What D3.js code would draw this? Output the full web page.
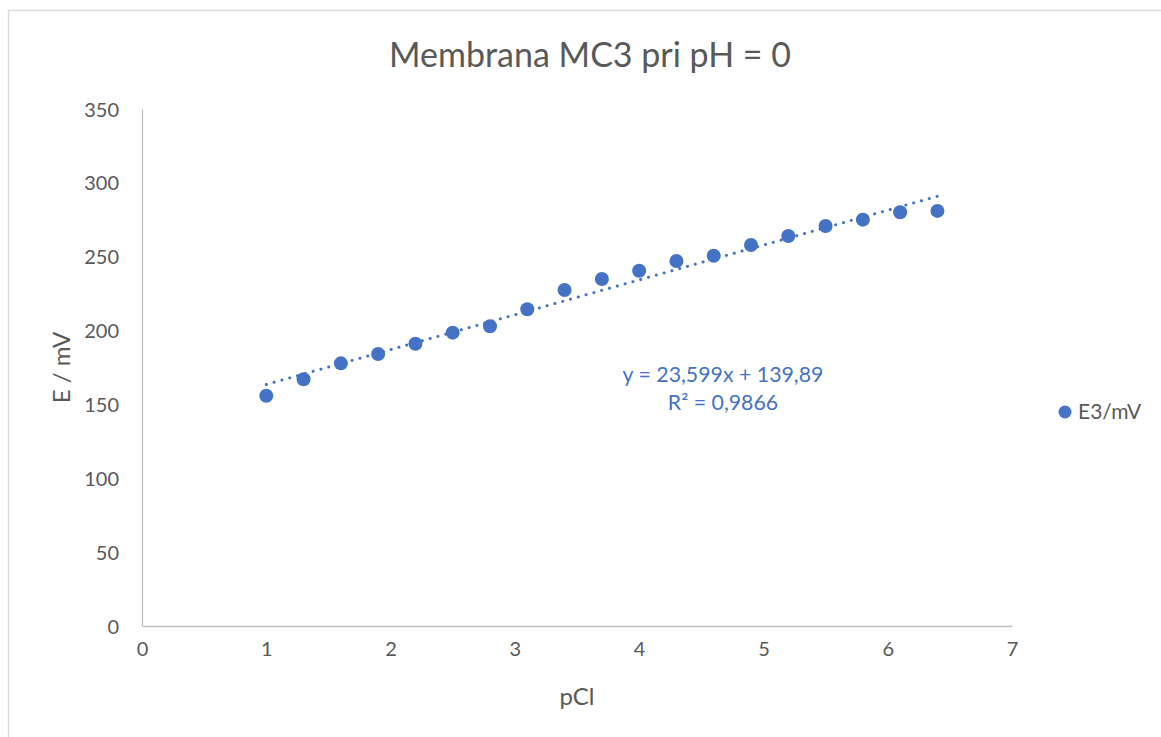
<!DOCTYPE html>
<html>
<head>
<meta charset="utf-8">
<script src="https://cdn.jsdelivr.net/npm/d3@7"></script>
<style>
  body { margin: 0; background: #fff; }
  svg { display: block; }
  text { font-family: Lato, "Open Sans", sans-serif; }
</style>
</head>
<body>
<div id="chart"></div>
<script>
// pCl values and measured potentials
const pCl = [1, 1.3, 1.6, 1.9, 2.2, 2.5, 2.8, 3.1, 3.4, 3.7, 4.0, 4.3, 4.6, 4.9, 5.2, 5.5, 5.8, 6.1, 6.4];
const E3 = [155.9, 167.0, 177.8, 184.1, 191.1, 198.6, 202.9, 214.4, 227.5, 234.9, 240.5, 247.1, 250.7, 257.9, 264.0, 270.8, 275.1, 280.1, 281.0];
const xTicks = [0, 1, 2, 3, 4, 5, 6, 7];
const yTicks = [0, 50, 100, 150, 200, 250, 300, 350];
const trendSlope = 23.599;
const trendIntercept = 139.89;

const width = 1161, height = 737;
const margin = { top: 109, right: 149, bottom: 111, left: 142 };
const blue = '#4472c4';
const grey = '#595959';

const svg = d3.select('#chart').append('svg')
    .attr('width', width)
    .attr('height', height);

// chart frame
svg.append('rect')
    .attr('x', 8.5).attr('y', 10.5)
    .attr('width', 1200).attr('height', 800)
    .attr('fill', 'none')
    .attr('stroke', '#d9d9d9')
    .attr('stroke-width', 1.5);

const x = d3.scaleLinear().domain([0, 7]).range([margin.left, width - margin.right]);
const y = d3.scaleLinear().domain([0, 350]).range([height - margin.bottom, margin.top]);

// axes
const xAxis = svg.append('g')
    .attr('transform', `translate(0,${y(0)})`)
    .call(d3.axisBottom(x).tickValues(xTicks).tickSize(0).tickPadding(22).tickFormat(d3.format('d')));
const yAxis = svg.append('g')
    .attr('transform', `translate(${x(0)},0)`)
    .call(d3.axisLeft(y).tickValues(yTicks).tickSize(0).tickPadding(23).tickFormat(d3.format('d')));

[xAxis, yAxis].forEach(a => {
    a.select('.domain').attr('stroke', '#bfbfbf').attr('stroke-width', 1.3);
    a.selectAll('text')
        .attr('fill', grey)
        .style('font-size', '20px')
        .style('font-family', 'Lato, sans-serif');
});
yAxis.selectAll('text').attr('dy', '0.35em');
xAxis.selectAll('text').attr('dy', '0.4em');

// title
svg.append('text')
    .attr('x', 590).attr('y', 67)
    .attr('text-anchor', 'middle')
    .attr('fill', grey)
    .style('font-size', '34px')
    .text('Membrana MC3 pri pH = 0');

// axis titles
svg.append('text')
    .attr('x', x(3.5)).attr('y', 705)
    .attr('text-anchor', 'middle')
    .attr('fill', grey)
    .style('font-size', '24px')
    .text('pCl');

svg.append('text')
    .attr('transform', `translate(70,${y(175)}) rotate(-90)`)
    .attr('text-anchor', 'middle')
    .attr('fill', grey)
    .style('font-size', '24px')
    .text('E / mV');

// trendline
const trend = d3.line()
    .x(d => x(d))
    .y(d => y(trendSlope * d + trendIntercept));
svg.append('path')
    .datum([pCl[0], pCl[pCl.length - 1]])
    .attr('d', trend)
    .attr('fill', 'none')
    .attr('stroke', blue)
    .attr('stroke-width', 3)
    .attr('stroke-linecap', 'round')
    .attr('stroke-dasharray', '0.1 8');

// points
svg.append('g')
    .selectAll('circle')
    .data(pCl.map((p, i) => ({ p, e: E3[i] })))
    .enter()
    .append('circle')
    .attr('cx', d => x(d.p))
    .attr('cy', d => y(d.e))
    .attr('r', 7)
    .attr('fill', blue);

// equation label
svg.append('text')
    .attr('x', 723).attr('y', 382)
    .attr('text-anchor', 'middle')
    .attr('fill', blue)
    .style('font-size', '21.3px')
    .text('y = 23,599x + 139,89');
svg.append('text')
    .attr('x', 723).attr('y', 410)
    .attr('text-anchor', 'middle')
    .attr('fill', blue)
    .style('font-size', '21.3px')
    .text('R² = 0,9866');

// legend
svg.append('circle')
    .attr('cx', 1065).attr('cy', 412)
    .attr('r', 6.5)
    .attr('fill', blue);
svg.append('text')
    .attr('x', 1078).attr('y', 419)
    .attr('fill', grey)
    .style('font-size', '21px')
    .text('E3/mV');
</script>
</body>
</html>
